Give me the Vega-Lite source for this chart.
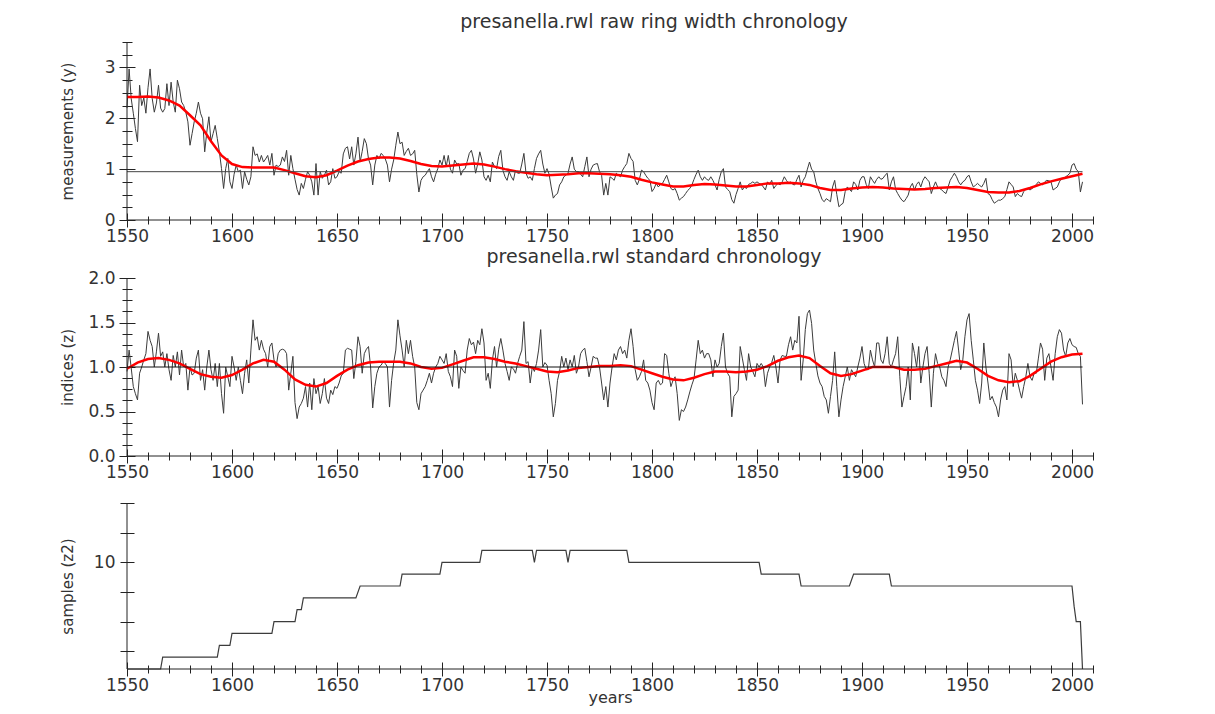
{
"$schema": "https://vega.github.io/schema/vega-lite/v6.json",
"autosize": {"type": "pad"},
"padding": {"left": 59, "top": 12, "right": 5, "bottom": 5},
"background": "white",
"datasets": {
"raw": [
{"t":1550,"v":2.2},{"t":1551,"v":2.97},{"t":1552,"v":2.39},{"t":1553,"v":2.1},{"t":1554,"v":1.8},{"t":1555,"v":1.54},{"t":1556,"v":2.65},{"t":1557,"v":2.25},{"t":1558,"v":2.4},{"t":1559,"v":2.1},
{"t":1560,"v":2.6},{"t":1561,"v":2.97},{"t":1562,"v":2.39},{"t":1563,"v":2.12},{"t":1564,"v":2.3},{"t":1565,"v":2.65},{"t":1566,"v":2.2},{"t":1567,"v":2.12},{"t":1568,"v":2.19},{"t":1569,"v":2.68},
{"t":1570,"v":2.25},{"t":1571,"v":2.71},{"t":1572,"v":2.32},{"t":1573,"v":2.12},{"t":1574,"v":2.75},{"t":1575,"v":2.58},{"t":1576,"v":2.32},{"t":1577,"v":2.25},{"t":1578,"v":2.12},{"t":1579,"v":1.93},
{"t":1580,"v":1.47},{"t":1581,"v":1.7},{"t":1582,"v":1.93},{"t":1583,"v":2.1},{"t":1584,"v":2.32},{"t":1585,"v":2.1},{"t":1586,"v":1.99},{"t":1587,"v":1.34},{"t":1588,"v":1.73},{"t":1589,"v":2.03},
{"t":1590,"v":1.54},{"t":1591,"v":1.7},{"t":1592,"v":1.86},{"t":1593,"v":1.6},{"t":1594,"v":1.34},{"t":1595,"v":1.01},{"t":1596,"v":0.62},{"t":1597,"v":1.01},{"t":1598,"v":1.21},{"t":1599,"v":0.75},
{"t":1600,"v":0.62},{"t":1601,"v":0.9},{"t":1602,"v":1.08},{"t":1603,"v":0.95},{"t":1604,"v":0.98},{"t":1605,"v":0.62},{"t":1606,"v":0.95},{"t":1607,"v":0.8},{"t":1608,"v":0.69},{"t":1609,"v":0.85},
{"t":1610,"v":1.44},{"t":1611,"v":1.27},{"t":1612,"v":1.3},{"t":1613,"v":1.14},{"t":1614,"v":1.27},{"t":1615,"v":1.14},{"t":1616,"v":1.2},{"t":1617,"v":1.27},{"t":1618,"v":1.08},{"t":1619,"v":1.31},
{"t":1620,"v":0.88},{"t":1621,"v":1.08},{"t":1622,"v":1.05},{"t":1623,"v":1.08},{"t":1624,"v":1.24},{"t":1625,"v":1.15},{"t":1626,"v":1.37},{"t":1627,"v":0.88},{"t":1628,"v":1.27},{"t":1629,"v":1.01},
{"t":1630,"v":0.8},{"t":1631,"v":0.6},{"t":1632,"v":0.49},{"t":1633,"v":0.72},{"t":1634,"v":0.62},{"t":1635,"v":0.8},{"t":1636,"v":0.95},{"t":1637,"v":0.88},{"t":1638,"v":0.75},{"t":1639,"v":0.49},
{"t":1640,"v":1.11},{"t":1641,"v":0.49},{"t":1642,"v":0.95},{"t":1643,"v":0.82},{"t":1644,"v":0.88},{"t":1645,"v":0.98},{"t":1646,"v":0.69},{"t":1647,"v":0.75},{"t":1648,"v":1.01},{"t":1649,"v":0.82},
{"t":1650,"v":0.85},{"t":1651,"v":0.95},{"t":1652,"v":0.92},{"t":1653,"v":1.3},{"t":1654,"v":1.41},{"t":1655,"v":1.44},{"t":1656,"v":1.2},{"t":1657,"v":1.44},{"t":1658,"v":1.08},{"t":1659,"v":1.3},
{"t":1660,"v":1.63},{"t":1661,"v":1.14},{"t":1662,"v":1.35},{"t":1663,"v":1.6},{"t":1664,"v":1.5},{"t":1665,"v":1.2},{"t":1666,"v":1.08},{"t":1667,"v":0.69},{"t":1668,"v":1.08},{"t":1669,"v":1.27},
{"t":1670,"v":1.2},{"t":1671,"v":1.31},{"t":1672,"v":1.27},{"t":1673,"v":1.2},{"t":1674,"v":1.08},{"t":1675,"v":0.75},{"t":1676,"v":1.0},{"t":1677,"v":1.18},{"t":1678,"v":1.47},{"t":1679,"v":1.73},
{"t":1680,"v":1.5},{"t":1681,"v":1.53},{"t":1682,"v":1.27},{"t":1683,"v":1.35},{"t":1684,"v":1.41},{"t":1685,"v":1.27},{"t":1686,"v":1.3},{"t":1687,"v":1.37},{"t":1688,"v":0.9},{"t":1689,"v":0.55},
{"t":1690,"v":0.78},{"t":1691,"v":0.85},{"t":1692,"v":0.88},{"t":1693,"v":0.95},{"t":1694,"v":1.01},{"t":1695,"v":0.85},{"t":1696,"v":0.75},{"t":1697,"v":0.9},{"t":1698,"v":1.01},{"t":1699,"v":1.18},
{"t":1700,"v":1.08},{"t":1701,"v":1.27},{"t":1702,"v":1.05},{"t":1703,"v":1.27},{"t":1704,"v":1.0},{"t":1705,"v":0.92},{"t":1706,"v":1.18},{"t":1707,"v":1.1},{"t":1708,"v":1.11},{"t":1709,"v":0.88},
{"t":1710,"v":0.98},{"t":1711,"v":1.01},{"t":1712,"v":1.15},{"t":1713,"v":1.31},{"t":1714,"v":1.37},{"t":1715,"v":1.2},{"t":1716,"v":0.92},{"t":1717,"v":1.1},{"t":1718,"v":1.34},{"t":1719,"v":1.18},
{"t":1720,"v":0.85},{"t":1721,"v":0.78},{"t":1722,"v":0.88},{"t":1723,"v":0.75},{"t":1724,"v":1.14},{"t":1725,"v":1.05},{"t":1726,"v":1.01},{"t":1727,"v":1.25},{"t":1728,"v":1.37},{"t":1729,"v":0.98},
{"t":1730,"v":0.85},{"t":1731,"v":0.78},{"t":1732,"v":0.95},{"t":1733,"v":0.85},{"t":1734,"v":0.78},{"t":1735,"v":0.98},{"t":1736,"v":0.92},{"t":1737,"v":0.92},{"t":1738,"v":1.1},{"t":1739,"v":1.31},
{"t":1740,"v":0.92},{"t":1741,"v":0.82},{"t":1742,"v":0.85},{"t":1743,"v":0.78},{"t":1744,"v":1.01},{"t":1745,"v":1.21},{"t":1746,"v":1.3},{"t":1747,"v":1.37},{"t":1748,"v":1.1},{"t":1749,"v":0.92},
{"t":1750,"v":1.01},{"t":1751,"v":0.9},{"t":1752,"v":0.65},{"t":1753,"v":0.43},{"t":1754,"v":0.49},{"t":1755,"v":0.52},{"t":1756,"v":0.69},{"t":1757,"v":0.75},{"t":1758,"v":0.85},{"t":1759,"v":0.88},
{"t":1760,"v":0.92},{"t":1761,"v":1.1},{"t":1762,"v":1.24},{"t":1763,"v":1.0},{"t":1764,"v":0.95},{"t":1765,"v":0.95},{"t":1766,"v":0.9},{"t":1767,"v":0.85},{"t":1768,"v":1.05},{"t":1769,"v":1.24},
{"t":1770,"v":0.85},{"t":1771,"v":1.0},{"t":1772,"v":1.08},{"t":1773,"v":1.1},{"t":1774,"v":1.11},{"t":1775,"v":0.95},{"t":1776,"v":0.88},{"t":1777,"v":0.49},{"t":1778,"v":0.72},{"t":1779,"v":0.49},
{"t":1780,"v":0.85},{"t":1781,"v":0.82},{"t":1782,"v":0.78},{"t":1783,"v":0.92},{"t":1784,"v":0.88},{"t":1785,"v":0.85},{"t":1786,"v":0.98},{"t":1787,"v":1.05},{"t":1788,"v":1.11},{"t":1789,"v":1.31},
{"t":1790,"v":1.21},{"t":1791,"v":1.15},{"t":1792,"v":0.78},{"t":1793,"v":0.69},{"t":1794,"v":0.8},{"t":1795,"v":0.98},{"t":1796,"v":0.95},{"t":1797,"v":0.88},{"t":1798,"v":0.82},{"t":1799,"v":0.78},
{"t":1800,"v":0.56},{"t":1801,"v":0.62},{"t":1802,"v":0.72},{"t":1803,"v":0.65},{"t":1804,"v":0.7},{"t":1805,"v":0.72},{"t":1806,"v":0.8},{"t":1807,"v":0.88},{"t":1808,"v":0.75},{"t":1809,"v":0.62},
{"t":1810,"v":0.59},{"t":1811,"v":0.62},{"t":1812,"v":0.52},{"t":1813,"v":0.39},{"t":1814,"v":0.43},{"t":1815,"v":0.46},{"t":1816,"v":0.52},{"t":1817,"v":0.58},{"t":1818,"v":0.62},{"t":1819,"v":0.69},
{"t":1820,"v":0.8},{"t":1821,"v":0.9},{"t":1822,"v":0.98},{"t":1823,"v":0.85},{"t":1824,"v":0.78},{"t":1825,"v":0.85},{"t":1826,"v":0.8},{"t":1827,"v":0.78},{"t":1828,"v":0.85},{"t":1829,"v":0.78},
{"t":1830,"v":0.69},{"t":1831,"v":0.59},{"t":1832,"v":0.8},{"t":1833,"v":0.95},{"t":1834,"v":1.01},{"t":1835,"v":0.65},{"t":1836,"v":0.6},{"t":1837,"v":0.56},{"t":1838,"v":0.4},{"t":1839,"v":0.33},
{"t":1840,"v":0.5},{"t":1841,"v":0.62},{"t":1842,"v":0.75},{"t":1843,"v":0.59},{"t":1844,"v":0.65},{"t":1845,"v":0.62},{"t":1846,"v":0.7},{"t":1847,"v":0.72},{"t":1848,"v":0.75},{"t":1849,"v":0.72},
{"t":1850,"v":0.75},{"t":1851,"v":0.72},{"t":1852,"v":0.7},{"t":1853,"v":0.65},{"t":1854,"v":0.59},{"t":1855,"v":0.75},{"t":1856,"v":0.7},{"t":1857,"v":0.78},{"t":1858,"v":0.62},{"t":1859,"v":0.68},
{"t":1860,"v":0.72},{"t":1861,"v":0.69},{"t":1862,"v":0.75},{"t":1863,"v":0.85},{"t":1864,"v":0.78},{"t":1865,"v":0.72},{"t":1866,"v":0.75},{"t":1867,"v":0.7},{"t":1868,"v":0.69},{"t":1869,"v":0.8},
{"t":1870,"v":0.88},{"t":1871,"v":0.65},{"t":1872,"v":0.78},{"t":1873,"v":0.85},{"t":1874,"v":1.0},{"t":1875,"v":1.14},{"t":1876,"v":1.0},{"t":1877,"v":0.95},{"t":1878,"v":0.75},{"t":1879,"v":0.62},
{"t":1880,"v":0.52},{"t":1881,"v":0.4},{"t":1882,"v":0.36},{"t":1883,"v":0.42},{"t":1884,"v":0.39},{"t":1885,"v":0.36},{"t":1886,"v":0.65},{"t":1887,"v":0.78},{"t":1888,"v":0.5},{"t":1889,"v":0.26},
{"t":1890,"v":0.3},{"t":1891,"v":0.33},{"t":1892,"v":0.56},{"t":1893,"v":0.65},{"t":1894,"v":0.6},{"t":1895,"v":0.56},{"t":1896,"v":0.75},{"t":1897,"v":0.7},{"t":1898,"v":0.59},{"t":1899,"v":0.78},
{"t":1900,"v":0.85},{"t":1901,"v":0.85},{"t":1902,"v":0.7},{"t":1903,"v":0.62},{"t":1904,"v":0.85},{"t":1905,"v":0.78},{"t":1906,"v":0.72},{"t":1907,"v":0.8},{"t":1908,"v":0.85},{"t":1909,"v":0.8},
{"t":1910,"v":0.82},{"t":1911,"v":0.88},{"t":1912,"v":0.92},{"t":1913,"v":0.59},{"t":1914,"v":0.75},{"t":1915,"v":0.85},{"t":1916,"v":0.6},{"t":1917,"v":0.52},{"t":1918,"v":0.45},{"t":1919,"v":0.39},
{"t":1920,"v":0.36},{"t":1921,"v":0.42},{"t":1922,"v":0.49},{"t":1923,"v":0.65},{"t":1924,"v":0.72},{"t":1925,"v":0.59},{"t":1926,"v":0.7},{"t":1927,"v":0.75},{"t":1928,"v":0.65},{"t":1929,"v":0.78},
{"t":1930,"v":0.85},{"t":1931,"v":0.8},{"t":1932,"v":0.75},{"t":1933,"v":0.52},{"t":1934,"v":0.65},{"t":1935,"v":0.75},{"t":1936,"v":0.65},{"t":1937,"v":0.62},{"t":1938,"v":0.59},{"t":1939,"v":0.55},
{"t":1940,"v":0.52},{"t":1941,"v":0.65},{"t":1942,"v":0.78},{"t":1943,"v":0.85},{"t":1944,"v":0.92},{"t":1945,"v":0.85},{"t":1946,"v":0.75},{"t":1947,"v":0.69},{"t":1948,"v":0.75},{"t":1949,"v":0.78},
{"t":1950,"v":0.85},{"t":1951,"v":0.88},{"t":1952,"v":0.75},{"t":1953,"v":0.65},{"t":1954,"v":0.68},{"t":1955,"v":0.72},{"t":1956,"v":0.68},{"t":1957,"v":0.65},{"t":1958,"v":0.72},{"t":1959,"v":0.82},
{"t":1960,"v":0.52},{"t":1961,"v":0.49},{"t":1962,"v":0.4},{"t":1963,"v":0.33},{"t":1964,"v":0.36},{"t":1965,"v":0.39},{"t":1966,"v":0.39},{"t":1967,"v":0.42},{"t":1968,"v":0.46},{"t":1969,"v":0.6},
{"t":1970,"v":0.75},{"t":1971,"v":0.7},{"t":1972,"v":0.65},{"t":1973,"v":0.46},{"t":1974,"v":0.52},{"t":1975,"v":0.48},{"t":1976,"v":0.46},{"t":1977,"v":0.56},{"t":1978,"v":0.6},{"t":1979,"v":0.62},
{"t":1980,"v":0.59},{"t":1981,"v":0.62},{"t":1982,"v":0.65},{"t":1983,"v":0.7},{"t":1984,"v":0.75},{"t":1985,"v":0.72},{"t":1986,"v":0.69},{"t":1987,"v":0.75},{"t":1988,"v":0.78},{"t":1989,"v":0.77},
{"t":1990,"v":0.75},{"t":1991,"v":0.59},{"t":1992,"v":0.62},{"t":1993,"v":0.65},{"t":1994,"v":0.75},{"t":1995,"v":0.82},{"t":1996,"v":0.82},{"t":1997,"v":0.85},{"t":1998,"v":0.88},{"t":1999,"v":0.92},
{"t":2000,"v":1.08},{"t":2001,"v":1.11},{"t":2002,"v":1.0},{"t":2003,"v":0.95},{"t":2004,"v":0.55},{"t":2005,"v":0.75}
],
"rawS": [
{"t":1550,"v":2.42},{"t":1555,"v":2.42},{"t":1560,"v":2.43},{"t":1565,"v":2.41},{"t":1570,"v":2.35},{"t":1575,"v":2.25},{"t":1580,"v":2.06},{"t":1585,"v":1.86},{"t":1590,"v":1.55},{"t":1595,"v":1.27},
{"t":1600,"v":1.1},{"t":1605,"v":1.04},{"t":1610,"v":1.03},{"t":1615,"v":1.03},{"t":1620,"v":1.03},{"t":1625,"v":0.98},{"t":1630,"v":0.92},{"t":1635,"v":0.86},{"t":1640,"v":0.84},{"t":1645,"v":0.88},
{"t":1650,"v":0.97},{"t":1655,"v":1.07},{"t":1660,"v":1.15},{"t":1665,"v":1.2},{"t":1670,"v":1.23},{"t":1675,"v":1.23},{"t":1680,"v":1.21},{"t":1685,"v":1.16},{"t":1690,"v":1.1},{"t":1695,"v":1.06},
{"t":1700,"v":1.05},{"t":1705,"v":1.07},{"t":1710,"v":1.09},{"t":1715,"v":1.11},{"t":1720,"v":1.09},{"t":1725,"v":1.05},{"t":1730,"v":1.0},{"t":1735,"v":0.96},{"t":1740,"v":0.93},{"t":1745,"v":0.9},
{"t":1750,"v":0.88},{"t":1755,"v":0.89},{"t":1760,"v":0.9},{"t":1765,"v":0.92},{"t":1770,"v":0.92},{"t":1775,"v":0.91},{"t":1780,"v":0.9},{"t":1785,"v":0.88},{"t":1790,"v":0.85},{"t":1795,"v":0.79},
{"t":1800,"v":0.74},{"t":1805,"v":0.7},{"t":1810,"v":0.66},{"t":1815,"v":0.66},{"t":1820,"v":0.69},{"t":1825,"v":0.71},{"t":1830,"v":0.7},{"t":1835,"v":0.68},{"t":1840,"v":0.66},{"t":1845,"v":0.66},
{"t":1850,"v":0.69},{"t":1855,"v":0.72},{"t":1860,"v":0.72},{"t":1865,"v":0.73},{"t":1870,"v":0.72},{"t":1875,"v":0.69},{"t":1880,"v":0.63},{"t":1885,"v":0.59},{"t":1890,"v":0.59},{"t":1895,"v":0.62},
{"t":1900,"v":0.64},{"t":1905,"v":0.65},{"t":1910,"v":0.64},{"t":1915,"v":0.62},{"t":1920,"v":0.61},{"t":1925,"v":0.6},{"t":1930,"v":0.61},{"t":1935,"v":0.63},{"t":1940,"v":0.64},{"t":1945,"v":0.65},
{"t":1950,"v":0.63},{"t":1955,"v":0.59},{"t":1960,"v":0.55},{"t":1965,"v":0.54},{"t":1970,"v":0.54},{"t":1975,"v":0.57},{"t":1980,"v":0.63},{"t":1985,"v":0.7},{"t":1990,"v":0.76},{"t":1995,"v":0.81},
{"t":2000,"v":0.86},{"t":2005,"v":0.91}
],
"std": [
{"t":1550,"v":0.95},{"t":1551,"v":1.19},{"t":1552,"v":0.99},{"t":1553,"v":0.78},{"t":1554,"v":0.7},{"t":1555,"v":0.63},{"t":1556,"v":0.93},{"t":1557,"v":1.0},{"t":1558,"v":1.08},{"t":1559,"v":1.15},
{"t":1560,"v":1.4},{"t":1561,"v":1.3},{"t":1562,"v":1.23},{"t":1563,"v":1.0},{"t":1564,"v":1.17},{"t":1565,"v":1.38},{"t":1566,"v":1.12},{"t":1567,"v":1.17},{"t":1568,"v":1.0},{"t":1569,"v":1.15},
{"t":1570,"v":0.97},{"t":1571,"v":0.85},{"t":1572,"v":1.13},{"t":1573,"v":1.0},{"t":1574,"v":1.17},{"t":1575,"v":0.91},{"t":1576,"v":1.19},{"t":1577,"v":1.0},{"t":1578,"v":1.04},{"t":1579,"v":0.74},
{"t":1580,"v":1.0},{"t":1581,"v":0.91},{"t":1582,"v":0.93},{"t":1583,"v":1.1},{"t":1584,"v":1.19},{"t":1585,"v":0.85},{"t":1586,"v":0.97},{"t":1587,"v":0.74},{"t":1588,"v":1.0},{"t":1589,"v":1.19},
{"t":1590,"v":0.97},{"t":1591,"v":0.85},{"t":1592,"v":1.04},{"t":1593,"v":0.78},{"t":1594,"v":1.04},{"t":1595,"v":0.7},{"t":1596,"v":0.48},{"t":1597,"v":1.0},{"t":1598,"v":0.89},{"t":1599,"v":0.78},
{"t":1600,"v":1.12},{"t":1601,"v":1.0},{"t":1602,"v":0.85},{"t":1603,"v":1.0},{"t":1604,"v":0.85},{"t":1605,"v":0.7},{"t":1606,"v":0.93},{"t":1607,"v":1.08},{"t":1608,"v":0.82},{"t":1609,"v":1.19},
{"t":1610,"v":1.53},{"t":1611,"v":1.3},{"t":1612,"v":1.34},{"t":1613,"v":1.19},{"t":1614,"v":1.3},{"t":1615,"v":1.2},{"t":1616,"v":1.15},{"t":1617,"v":1.0},{"t":1618,"v":1.23},{"t":1619,"v":1.27},
{"t":1620,"v":1.08},{"t":1621,"v":1.0},{"t":1622,"v":1.15},{"t":1623,"v":1.19},{"t":1624,"v":1.2},{"t":1625,"v":1.19},{"t":1626,"v":1.15},{"t":1627,"v":0.74},{"t":1628,"v":0.93},{"t":1629,"v":1.12},
{"t":1630,"v":0.6},{"t":1631,"v":0.42},{"t":1632,"v":0.55},{"t":1633,"v":0.59},{"t":1634,"v":0.65},{"t":1635,"v":0.78},{"t":1636,"v":0.55},{"t":1637,"v":0.82},{"t":1638,"v":0.52},{"t":1639,"v":0.87},
{"t":1640,"v":0.7},{"t":1641,"v":0.78},{"t":1642,"v":0.59},{"t":1643,"v":0.7},{"t":1644,"v":0.87},{"t":1645,"v":0.65},{"t":1646,"v":0.59},{"t":1647,"v":0.74},{"t":1648,"v":0.69},{"t":1649,"v":0.78},
{"t":1650,"v":0.76},{"t":1651,"v":0.82},{"t":1652,"v":0.9},{"t":1653,"v":0.93},{"t":1654,"v":1.19},{"t":1655,"v":1.21},{"t":1656,"v":1.2},{"t":1657,"v":1.19},{"t":1658,"v":0.87},{"t":1659,"v":1.06},
{"t":1660,"v":1.34},{"t":1661,"v":1.23},{"t":1662,"v":0.93},{"t":1663,"v":1.15},{"t":1664,"v":1.2},{"t":1665,"v":1.23},{"t":1666,"v":1.0},{"t":1667,"v":0.54},{"t":1668,"v":0.78},{"t":1669,"v":0.93},
{"t":1670,"v":1.0},{"t":1671,"v":1.02},{"t":1672,"v":1.06},{"t":1673,"v":1.04},{"t":1674,"v":1.0},{"t":1675,"v":0.55},{"t":1676,"v":0.85},{"t":1677,"v":1.05},{"t":1678,"v":1.19},{"t":1679,"v":1.53},
{"t":1680,"v":1.35},{"t":1681,"v":1.19},{"t":1682,"v":1.0},{"t":1683,"v":1.3},{"t":1684,"v":1.15},{"t":1685,"v":1.3},{"t":1686,"v":1.12},{"t":1687,"v":1.0},{"t":1688,"v":0.6},{"t":1689,"v":0.52},
{"t":1690,"v":0.7},{"t":1691,"v":0.74},{"t":1692,"v":0.78},{"t":1693,"v":0.85},{"t":1694,"v":0.93},{"t":1695,"v":0.82},{"t":1696,"v":0.93},{"t":1697,"v":1.0},{"t":1698,"v":1.04},{"t":1699,"v":1.12},
{"t":1700,"v":1.08},{"t":1701,"v":1.04},{"t":1702,"v":1.15},{"t":1703,"v":0.95},{"t":1704,"v":0.89},{"t":1705,"v":0.78},{"t":1706,"v":1.19},{"t":1707,"v":1.12},{"t":1708,"v":0.76},{"t":1709,"v":1.0},
{"t":1710,"v":0.96},{"t":1711,"v":0.93},{"t":1712,"v":1.19},{"t":1713,"v":1.32},{"t":1714,"v":1.25},{"t":1715,"v":1.28},{"t":1716,"v":1.15},{"t":1717,"v":1.3},{"t":1718,"v":1.25},{"t":1719,"v":1.43},
{"t":1720,"v":1.27},{"t":1721,"v":0.85},{"t":1722,"v":0.93},{"t":1723,"v":0.76},{"t":1724,"v":1.08},{"t":1725,"v":1.23},{"t":1726,"v":1.0},{"t":1727,"v":1.2},{"t":1728,"v":1.32},{"t":1729,"v":1.19},
{"t":1730,"v":1.04},{"t":1731,"v":0.95},{"t":1732,"v":0.85},{"t":1733,"v":1.0},{"t":1734,"v":0.98},{"t":1735,"v":0.93},{"t":1736,"v":1.04},{"t":1737,"v":1.12},{"t":1738,"v":1.19},{"t":1739,"v":1.51},
{"t":1740,"v":1.04},{"t":1741,"v":1.06},{"t":1742,"v":0.82},{"t":1743,"v":1.0},{"t":1744,"v":0.95},{"t":1745,"v":1.04},{"t":1746,"v":1.19},{"t":1747,"v":1.42},{"t":1748,"v":1.0},{"t":1749,"v":1.05},
{"t":1750,"v":1.02},{"t":1751,"v":0.85},{"t":1752,"v":0.7},{"t":1753,"v":0.44},{"t":1754,"v":0.59},{"t":1755,"v":0.85},{"t":1756,"v":0.95},{"t":1757,"v":1.12},{"t":1758,"v":1.0},{"t":1759,"v":1.1},
{"t":1760,"v":0.97},{"t":1761,"v":1.08},{"t":1762,"v":1.0},{"t":1763,"v":1.13},{"t":1764,"v":0.93},{"t":1765,"v":1.0},{"t":1766,"v":1.15},{"t":1767,"v":1.19},{"t":1768,"v":1.21},{"t":1769,"v":1.06},
{"t":1770,"v":0.89},{"t":1771,"v":1.0},{"t":1772,"v":1.12},{"t":1773,"v":1.1},{"t":1774,"v":1.1},{"t":1775,"v":1.0},{"t":1776,"v":0.82},{"t":1777,"v":0.63},{"t":1778,"v":0.78},{"t":1779,"v":0.55},
{"t":1780,"v":0.82},{"t":1781,"v":1.0},{"t":1782,"v":1.15},{"t":1783,"v":1.08},{"t":1784,"v":1.19},{"t":1785,"v":1.23},{"t":1786,"v":1.15},{"t":1787,"v":1.19},{"t":1788,"v":1.1},{"t":1789,"v":1.3},
{"t":1790,"v":1.43},{"t":1791,"v":1.23},{"t":1792,"v":0.97},{"t":1793,"v":0.85},{"t":1794,"v":0.89},{"t":1795,"v":0.95},{"t":1796,"v":1.08},{"t":1797,"v":0.85},{"t":1798,"v":0.82},{"t":1799,"v":0.74},
{"t":1800,"v":0.6},{"t":1801,"v":0.52},{"t":1802,"v":0.82},{"t":1803,"v":0.85},{"t":1804,"v":0.8},{"t":1805,"v":0.82},{"t":1806,"v":1.15},{"t":1807,"v":1.13},{"t":1808,"v":0.93},{"t":1809,"v":0.78},
{"t":1810,"v":0.85},{"t":1811,"v":0.89},{"t":1812,"v":0.7},{"t":1813,"v":0.4},{"t":1814,"v":0.52},{"t":1815,"v":0.5},{"t":1816,"v":0.55},{"t":1817,"v":0.63},{"t":1818,"v":0.72},{"t":1819,"v":0.8},
{"t":1820,"v":0.87},{"t":1821,"v":1.08},{"t":1822,"v":1.3},{"t":1823,"v":1.15},{"t":1824,"v":1.19},{"t":1825,"v":1.1},{"t":1826,"v":1.15},{"t":1827,"v":1.15},{"t":1828,"v":1.08},{"t":1829,"v":0.89},
{"t":1830,"v":1.08},{"t":1831,"v":1.0},{"t":1832,"v":1.04},{"t":1833,"v":1.23},{"t":1834,"v":1.38},{"t":1835,"v":1.0},{"t":1836,"v":0.93},{"t":1837,"v":0.89},{"t":1838,"v":0.44},{"t":1839,"v":0.67},
{"t":1840,"v":0.7},{"t":1841,"v":0.74},{"t":1842,"v":1.23},{"t":1843,"v":1.1},{"t":1844,"v":0.97},{"t":1845,"v":0.85},{"t":1846,"v":1.15},{"t":1847,"v":1.0},{"t":1848,"v":0.95},{"t":1849,"v":0.89},
{"t":1850,"v":1.04},{"t":1851,"v":1.0},{"t":1852,"v":1.04},{"t":1853,"v":1.0},{"t":1854,"v":0.78},{"t":1855,"v":0.93},{"t":1856,"v":1.0},{"t":1857,"v":1.05},{"t":1858,"v":1.13},{"t":1859,"v":1.0},
{"t":1860,"v":0.82},{"t":1861,"v":1.08},{"t":1862,"v":1.13},{"t":1863,"v":1.12},{"t":1864,"v":1.12},{"t":1865,"v":1.25},{"t":1866,"v":1.34},{"t":1867,"v":1.19},{"t":1868,"v":1.3},{"t":1869,"v":1.27},
{"t":1870,"v":1.57},{"t":1871,"v":0.85},{"t":1872,"v":1.08},{"t":1873,"v":1.42},{"t":1874,"v":1.6},{"t":1875,"v":1.64},{"t":1876,"v":1.49},{"t":1877,"v":1.19},{"t":1878,"v":1.04},{"t":1879,"v":0.9},
{"t":1880,"v":0.82},{"t":1881,"v":0.78},{"t":1882,"v":0.67},{"t":1883,"v":0.63},{"t":1884,"v":0.48},{"t":1885,"v":0.67},{"t":1886,"v":0.85},{"t":1887,"v":1.17},{"t":1888,"v":0.78},{"t":1889,"v":0.44},
{"t":1890,"v":0.63},{"t":1891,"v":0.78},{"t":1892,"v":0.89},{"t":1893,"v":1.0},{"t":1894,"v":0.85},{"t":1895,"v":0.97},{"t":1896,"v":0.93},{"t":1897,"v":0.89},{"t":1898,"v":1.0},{"t":1899,"v":1.1},
{"t":1900,"v":1.23},{"t":1901,"v":1.04},{"t":1902,"v":0.97},{"t":1903,"v":0.97},{"t":1904,"v":1.19},{"t":1905,"v":1.08},{"t":1906,"v":1.0},{"t":1907,"v":1.27},{"t":1908,"v":1.27},{"t":1909,"v":1.08},
{"t":1910,"v":1.04},{"t":1911,"v":1.15},{"t":1912,"v":1.34},{"t":1913,"v":1.04},{"t":1914,"v":1.0},{"t":1915,"v":1.08},{"t":1916,"v":1.15},{"t":1917,"v":1.34},{"t":1918,"v":0.89},{"t":1919,"v":0.55},
{"t":1920,"v":0.67},{"t":1921,"v":0.78},{"t":1922,"v":1.0},{"t":1923,"v":0.63},{"t":1924,"v":1.27},{"t":1925,"v":1.15},{"t":1926,"v":1.0},{"t":1927,"v":1.23},{"t":1928,"v":0.82},{"t":1929,"v":1.0},
{"t":1930,"v":1.15},{"t":1931,"v":1.23},{"t":1932,"v":0.93},{"t":1933,"v":0.55},{"t":1934,"v":0.93},{"t":1935,"v":1.15},{"t":1936,"v":1.04},{"t":1937,"v":1.0},{"t":1938,"v":0.89},{"t":1939,"v":0.85},
{"t":1940,"v":0.78},{"t":1941,"v":1.0},{"t":1942,"v":1.08},{"t":1943,"v":1.19},{"t":1944,"v":1.3},{"t":1945,"v":1.4},{"t":1946,"v":1.19},{"t":1947,"v":0.97},{"t":1948,"v":1.08},{"t":1949,"v":1.34},
{"t":1950,"v":1.53},{"t":1951,"v":1.6},{"t":1952,"v":1.3},{"t":1953,"v":1.08},{"t":1954,"v":0.85},{"t":1955,"v":0.74},{"t":1956,"v":0.59},{"t":1957,"v":0.82},{"t":1958,"v":1.27},{"t":1959,"v":1.0},
{"t":1960,"v":0.82},{"t":1961,"v":0.63},{"t":1962,"v":0.67},{"t":1963,"v":0.6},{"t":1964,"v":0.55},{"t":1965,"v":0.44},{"t":1966,"v":0.63},{"t":1967,"v":0.74},{"t":1968,"v":0.78},{"t":1969,"v":0.63},
{"t":1970,"v":1.15},{"t":1971,"v":1.08},{"t":1972,"v":0.78},{"t":1973,"v":0.93},{"t":1974,"v":0.85},{"t":1975,"v":0.74},{"t":1976,"v":0.65},{"t":1977,"v":0.78},{"t":1978,"v":0.89},{"t":1979,"v":1.04},
{"t":1980,"v":0.89},{"t":1981,"v":0.85},{"t":1982,"v":0.93},{"t":1983,"v":0.93},{"t":1984,"v":1.1},{"t":1985,"v":1.27},{"t":1986,"v":1.2},{"t":1987,"v":0.85},{"t":1988,"v":1.1},{"t":1989,"v":1.15},
{"t":1990,"v":1.0},{"t":1991,"v":0.85},{"t":1992,"v":1.15},{"t":1993,"v":1.34},{"t":1994,"v":1.42},{"t":1995,"v":1.38},{"t":1996,"v":1.19},{"t":1997,"v":1.12},{"t":1998,"v":1.27},{"t":1999,"v":1.32},
{"t":2000,"v":1.25},{"t":2001,"v":1.23},{"t":2002,"v":1.22},{"t":2003,"v":1.15},{"t":2004,"v":1.12},{"t":2005,"v":0.58}
],
"stdS": [
{"t":1550,"v":0.98},{"t":1555,"v":1.05},{"t":1560,"v":1.09},{"t":1565,"v":1.1},{"t":1570,"v":1.08},{"t":1575,"v":1.04},{"t":1580,"v":0.98},{"t":1585,"v":0.92},{"t":1590,"v":0.89},{"t":1595,"v":0.88},
{"t":1600,"v":0.91},{"t":1605,"v":0.97},{"t":1610,"v":1.04},{"t":1615,"v":1.08},{"t":1620,"v":1.06},{"t":1625,"v":0.97},{"t":1630,"v":0.86},{"t":1635,"v":0.8},{"t":1640,"v":0.78},{"t":1645,"v":0.82},
{"t":1650,"v":0.9},{"t":1655,"v":0.97},{"t":1660,"v":1.02},{"t":1665,"v":1.05},{"t":1670,"v":1.06},{"t":1675,"v":1.06},{"t":1680,"v":1.06},{"t":1685,"v":1.04},{"t":1690,"v":1.0},{"t":1695,"v":0.98},
{"t":1700,"v":0.99},{"t":1705,"v":1.03},{"t":1710,"v":1.07},{"t":1715,"v":1.11},{"t":1720,"v":1.11},{"t":1725,"v":1.09},{"t":1730,"v":1.06},{"t":1735,"v":1.04},{"t":1740,"v":1.01},{"t":1745,"v":0.98},
{"t":1750,"v":0.95},{"t":1755,"v":0.94},{"t":1760,"v":0.96},{"t":1765,"v":0.99},{"t":1770,"v":1.0},{"t":1775,"v":1.01},{"t":1780,"v":1.01},{"t":1785,"v":1.02},{"t":1790,"v":1.01},{"t":1795,"v":0.97},
{"t":1800,"v":0.93},{"t":1805,"v":0.89},{"t":1810,"v":0.86},{"t":1815,"v":0.85},{"t":1820,"v":0.88},{"t":1825,"v":0.92},{"t":1830,"v":0.95},{"t":1835,"v":0.95},{"t":1840,"v":0.94},{"t":1845,"v":0.95},
{"t":1850,"v":0.97},{"t":1855,"v":1.01},{"t":1860,"v":1.07},{"t":1865,"v":1.11},{"t":1870,"v":1.13},{"t":1875,"v":1.1},{"t":1880,"v":1.01},{"t":1885,"v":0.93},{"t":1890,"v":0.9},{"t":1895,"v":0.92},
{"t":1900,"v":0.96},{"t":1905,"v":1.0},{"t":1910,"v":1.0},{"t":1915,"v":1.0},{"t":1920,"v":0.97},{"t":1925,"v":0.97},{"t":1930,"v":0.98},{"t":1935,"v":1.01},{"t":1940,"v":1.04},{"t":1945,"v":1.07},
{"t":1950,"v":1.05},{"t":1955,"v":0.98},{"t":1960,"v":0.9},{"t":1965,"v":0.85},{"t":1970,"v":0.83},{"t":1975,"v":0.84},{"t":1980,"v":0.9},{"t":1985,"v":0.98},{"t":1990,"v":1.06},{"t":1995,"v":1.11},
{"t":2000,"v":1.14},{"t":2005,"v":1.15}
],
"samp": [
{"t":1550,"v":1},{"t":1566,"v":1},{"t":1567,"v":2},{"t":1593,"v":2},{"t":1594,"v":3},{"t":1599,"v":3},{"t":1600,"v":4},{"t":1619,"v":4},{"t":1620,"v":5},{"t":1630,"v":5},
{"t":1631,"v":6},{"t":1633,"v":6},{"t":1634,"v":7},{"t":1659,"v":7},{"t":1661,"v":8},{"t":1680,"v":8},{"t":1681,"v":9},{"t":1699,"v":9},{"t":1700,"v":10},{"t":1718,"v":10},
{"t":1719,"v":11},{"t":1743,"v":11},{"t":1744,"v":10},{"t":1745,"v":11},{"t":1759,"v":11},{"t":1760,"v":10},{"t":1761,"v":11},{"t":1788,"v":11},{"t":1789,"v":10},{"t":1851,"v":10},
{"t":1852,"v":9},{"t":1870,"v":9},{"t":1871,"v":8},{"t":1894,"v":8},{"t":1896,"v":9},{"t":1913,"v":9},{"t":1914,"v":8},{"t":2000,"v":8},{"t":2001,"v":6.3},{"t":2002,"v":5},
{"t":2004,"v":5},{"t":2005,"v":1}
]
},
"vconcat": [
{
"width": 966, "height": 178,
"title": {"text": "presanella.rwl raw ring width chronology", "offset": -5, "baseline": "alphabetic", "dx": 44},
"layer": [
{"data": {"name": "raw"}, "mark": {"type": "line", "color": "#3c3c3c", "strokeWidth": 1},
 "encoding": {
  "x": {"field": "t", "type": "quantitative", "scale": {"domain": [1550, 2010], "nice": false, "zero": false},
        "axis": {"orient": "bottom", "values": [1550,1600,1650,1700,1750,1800,1850,1900,1950,2000], "format": "d", "tickSize": 14, "offset": -7, "labelPadding": 1, "labelFlush": false, "labelOverlap": false, "title": null}},
  "y": {"field": "v", "type": "quantitative", "scale": {"domain": [0, 3.5], "nice": false},
        "axis": {"orient": "left", "values": [0,1,2,3], "tickSize": 16, "offset": -8, "labelPadding": 4, "title": "measurements (y)", "titleX": -68, "titleBaseline": "middle"}}
 }},
{"data": {"name": "rawS"}, "mark": {"type": "line", "color": "#ff0000", "strokeWidth": 2.5},
 "encoding": {
  "x": {"field": "t", "type": "quantitative",
        "axis": {"orient": "bottom", "values": [1560,1570,1580,1590,1610,1620,1630,1640,1660,1670,1680,1690,1710,1720,1730,1740,1760,1770,1780,1790,1810,1820,1830,1840,1860,1870,1880,1890,1910,1920,1930,1940,1960,1970,1980,1990,2010], "labels": false, "tickSize": 8, "offset": -4, "title": null}},
  "y": {"field": "v", "type": "quantitative",
        "axis": {"orient": "left", "values": [0.25,0.5,0.75,1.25,1.5,1.75,2.25,2.5,2.75,3.25,3.5], "labels": false, "tickSize": 10, "offset": -5, "title": null}}
 }},
{"data": {"values": [{}]}, "mark": {"type": "rule", "color": "#444444", "strokeWidth": 1},
 "encoding": {"x": {"datum": 1550, "axis": null}, "x2": {"datum": 2005}, "y": {"datum": 0.95, "axis": null}}},
{"data": {"values": [{}]}, "mark": {"type": "rule", "color": "#222222", "strokeWidth": 1},
 "encoding": {"y": {"datum": 0, "axis": null}}},
{"data": {"values": [{}]}, "mark": {"type": "rule", "color": "#222222", "strokeWidth": 1},
 "encoding": {"x": {"datum": 1550, "axis": null}}}
],
"resolve": {"axis": {"x": "independent", "y": "independent"}}
},
{
"width": 966, "height": 189,
"title": {"text": "presanella.rwl standard chronology", "offset": -15, "baseline": "alphabetic", "dx": 44},
"layer": [
{"data": {"name": "std"}, "mark": {"type": "line", "color": "#3c3c3c", "strokeWidth": 1},
 "encoding": {
  "x": {"field": "t", "type": "quantitative", "scale": {"domain": [1550, 2010], "nice": false, "zero": false},
        "axis": {"orient": "bottom", "values": [1550,1600,1650,1700,1750,1800,1850,1900,1950,2000], "format": "d", "tickSize": 14, "offset": -7, "labelPadding": 1, "labelFlush": false, "labelOverlap": false, "title": null}},
  "y": {"field": "v", "type": "quantitative", "scale": {"domain": [0, 2.1236], "nice": false},
        "axis": {"orient": "left", "values": [0,0.5,1,1.5,2], "format": ".1f", "tickSize": 16, "offset": -8, "labelPadding": 4, "title": "indices (z)", "titleX": -68, "titleY": 100, "titleBaseline": "middle"}}
 }},
{"data": {"name": "stdS"}, "mark": {"type": "line", "color": "#ff0000", "strokeWidth": 2.5},
 "encoding": {
  "x": {"field": "t", "type": "quantitative",
        "axis": {"orient": "bottom", "values": [1560,1570,1580,1590,1610,1620,1630,1640,1660,1670,1680,1690,1710,1720,1730,1740,1760,1770,1780,1790,1810,1820,1830,1840,1860,1870,1880,1890,1910,1920,1930,1940,1960,1970,1980,1990,2010], "labels": false, "tickSize": 8, "offset": -4, "title": null}},
  "y": {"field": "v", "type": "quantitative",
        "axis": {"orient": "left", "values": [0.125,0.25,0.375,0.625,0.75,0.875,1.125,1.25,1.375,1.625,1.75,1.875], "labels": false, "tickSize": 10, "offset": -5, "title": null}}
 }},
{"data": {"values": [{}]}, "mark": {"type": "rule", "color": "#111111", "strokeWidth": 1},
 "encoding": {"x": {"datum": 1550, "axis": null}, "x2": {"datum": 2005}, "y": {"datum": 1.0, "axis": null}}},
{"data": {"values": [{}]}, "mark": {"type": "rule", "color": "#222222", "strokeWidth": 1},
 "encoding": {"y": {"datum": 0, "axis": null}}},
{"data": {"values": [{}]}, "mark": {"type": "rule", "color": "#222222", "strokeWidth": 1},
 "encoding": {"x": {"datum": 1550, "axis": null}, "y": {"datum": 0, "axis": null}, "y2": {"datum": 2}}}
],
"resolve": {"axis": {"x": "independent", "y": "independent"}}
},
{
"width": 966, "height": 166,
"layer": [
{"data": {"name": "samp"}, "mark": {"type": "line", "color": "#3c3c3c", "strokeWidth": 1.2},
 "encoding": {
  "x": {"field": "t", "type": "quantitative", "scale": {"domain": [1550, 2010], "nice": false, "zero": false},
        "axis": {"orient": "bottom", "values": [1550,1600,1650,1700,1750,1800,1850,1900,1950,2000], "format": "d", "tickSize": 14, "offset": -7, "labelPadding": 1, "labelFlush": false, "labelOverlap": false, "title": "years", "titleFontSize": 16, "titleY": 35, "titleBaseline": "middle"}},
  "y": {"field": "v", "type": "quantitative", "scale": {"domain": [1, 15], "nice": false, "zero": false},
        "axis": {"orient": "left", "values": [2.5,5,7.5,10,12.5,15], "labelExpr": "datum.value == 10 ? '10' : ''", "tickSize": 14, "offset": -7, "labelPadding": 5, "title": "samples (z2)", "titleX": -67, "titleBaseline": "middle"}}
 }},
{"data": {"values": [{"t": 1550, "v": 1}]}, "mark": {"type": "point", "opacity": 0},
 "encoding": {
  "x": {"field": "t", "type": "quantitative",
        "axis": {"orient": "bottom", "values": [1560,1570,1580,1590,1610,1620,1630,1640,1660,1670,1680,1690,1710,1720,1730,1740,1760,1770,1780,1790,1810,1820,1830,1840,1860,1870,1880,1890,1910,1920,1930,1940,1960,1970,1980,1990,2010], "labels": false, "tickSize": 8, "offset": -4, "title": null}},
  "y": {"field": "v", "type": "quantitative", "axis": null}
 }},
{"data": {"values": [{}]}, "mark": {"type": "rule", "color": "#222222", "strokeWidth": 1},
 "encoding": {"y": {"datum": 1, "axis": null}}},
{"data": {"values": [{}]}, "mark": {"type": "rule", "color": "#222222", "strokeWidth": 1},
 "encoding": {"x": {"datum": 1550, "axis": null}}}
],
"resolve": {"axis": {"x": "independent", "y": "independent"}}
}
],
"spacing": 47,
"bounds": "flush",
"config": {
 "view": {"stroke": null},
 "axis": {"grid": false, "domain": false, "labelFont": "DejaVu Sans", "labelFontSize": 17, "labelColor": "#333333", "tickColor": "#222222", "tickWidth": 1,
          "titleFont": "DejaVu Sans", "titleFontSize": 15, "titleFontWeight": "normal", "titleColor": "#333333"},
 "title": {"font": "DejaVu Sans", "fontSize": 19, "fontWeight": "normal", "color": "#333333", "anchor": "middle"}
}
}
